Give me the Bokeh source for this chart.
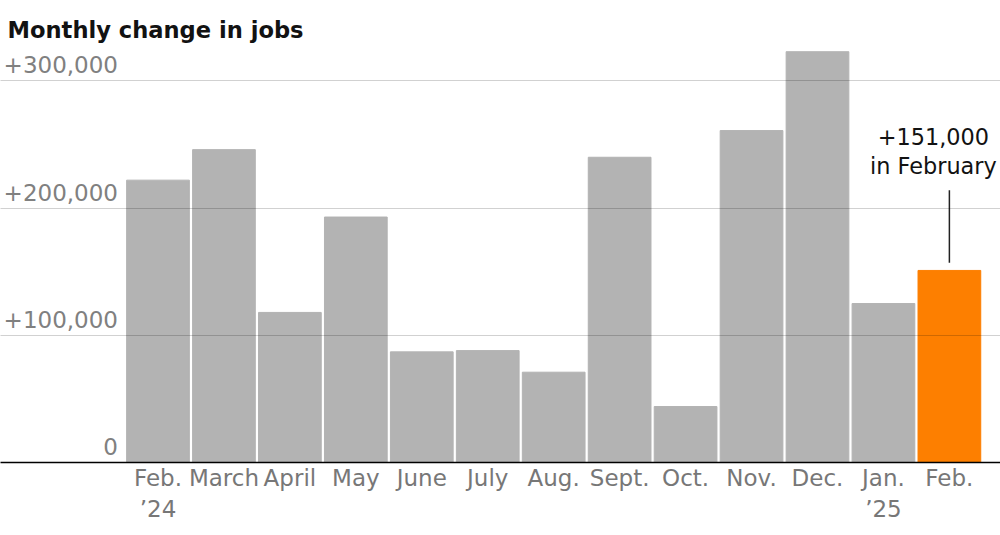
from bokeh.plotting import figure
from bokeh.models import Range1d, FixedTicker, ColumnDataSource
from bokeh.core.properties import value
from bokeh.embed import file_html
from bokeh.resources import INLINE

# ---- data ----
months = ["Feb.\n\u201924", "March", "April", "May", "June", "July", "Aug.",
          "Sept.", "Oct.", "Nov.", "Dec.", "Jan.\n\u201925", "Feb."]
jobs = [222000, 246000, 118000, 193000, 87000, 88000, 71000,
        240000, 44000, 261000, 323000, 125000, 151000]
bar_colors = ["#b3b3b3"] * 12 + ["#fd7f00"]
y_ticks = [0, 100000, 200000, 300000]
y_tick_labels = ["0", "+100,000", "+200,000", "+300,000"]
note_lines = ["+151,000", "in February"]
title_text = "Monthly change in jobs"

FONT = "DejaVu Sans"
idx = list(range(len(months)))

p = figure(width=1000, height=535, output_backend="svg", toolbar_location=None,
           x_range=Range1d(-2.388, 12.775), y_range=Range1d(0, 326300),
           min_border_left=0, min_border_right=0, min_border_top=47,
           min_border_bottom=73)
p.title.text = title_text
p.title.text_font = FONT
p.title.text_font_size = "22.6px"
p.title.text_font_style = "bold"
p.title.text_color = "#121212"
p.title.offset = 7
p.outline_line_color = None
p.background_fill_color = "white"

src = ColumnDataSource(dict(x=idx, top=jobs, color=bar_colors))
p.vbar(x="x", top="top", bottom=0, width=0.951, color="color", source=src)

# x axis
p.xaxis.ticker = FixedTicker(ticks=idx)
p.xaxis.major_label_overrides = {i: m for i, m in zip(idx, months)}
p.xaxis.axis_line_color = "black"
p.xaxis.axis_line_width = 1.3
p.xaxis.major_tick_line_color = None
p.xaxis.minor_tick_line_color = None
p.xaxis.major_label_text_font = FONT
p.xaxis.major_label_text_font_size = "23px"
p.xaxis.major_label_text_color = "#777777"
p.xaxis.major_label_standoff = -4
p.xgrid.visible = False

# y axis hidden, grid kept
p.yaxis.visible = False
p.ygrid.ticker = FixedTicker(ticks=y_ticks[1:])
p.ygrid.grid_line_color = "black"
p.ygrid.grid_line_alpha = 0.18
p.ygrid.grid_line_width = 1
p.ygrid.level = "annotation"

# y tick labels inside the plot
p.text(x=[idx[0]] * len(y_ticks), y=y_ticks, text=y_tick_labels,
       x_offset=-40, y_offset=-16, text_align="right", text_baseline="alphabetic",
       text_font=value(FONT), text_font_size="23px", text_color="#808080")

# annotation for last bar
last = idx[-1]
p.segment(x0=[last], y0=[jobs[-1] + 6000], x1=[last], y1=[jobs[-1] + 63000],
          line_color="#222222", line_width=1.5)
p.text(x=[last, last], y=[jobs[-1], jobs[-1]], text=note_lines,
       x_offset=-16, y_offset=[-134, -104], text_align="center",
       text_baseline="alphabetic", text_font=value(FONT),
       text_font_size="22.4px", text_color="#121212")

open("out.html", "w").write(file_html(p, INLINE))
